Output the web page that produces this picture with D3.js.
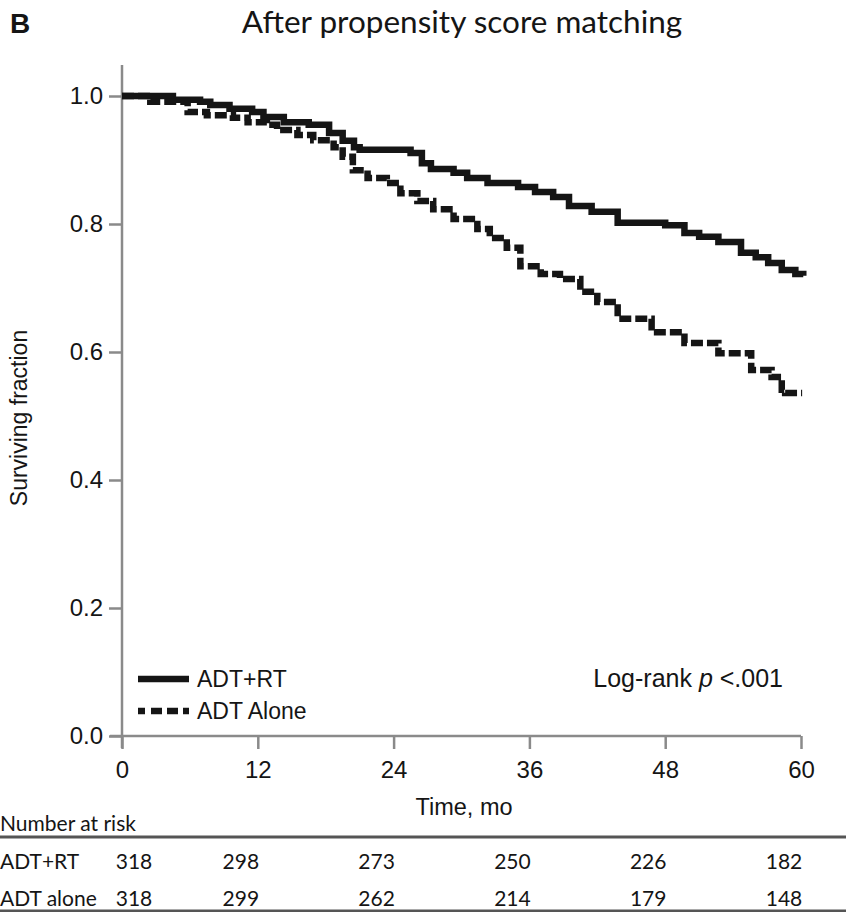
<!DOCTYPE html>
<html>
<head>
<meta charset="utf-8">
<script src="https://cdn.jsdelivr.net/npm/d3@7"></script>
<style>
  body { margin: 0; background: #fff; }
  svg { display: block; }
</style>
</head>
<body>
<svg class="kmSVG" width="846" height="912"></svg>
<script>
// survival estimates: [month, surviving fraction]
const adtRt = [
  [0, 1.0], [4.5, 0.994], [6.9, 0.991], [7.8, 0.986], [9.5, 0.980], [11.5, 0.975],
  [12.5, 0.967], [14.3, 0.959], [16.5, 0.955], [18.3, 0.942], [19.5, 0.930],
  [20.5, 0.920], [21.0, 0.916], [25.5, 0.911], [26.5, 0.895], [27.3, 0.886],
  [29.3, 0.880], [30.5, 0.872], [32.3, 0.864], [35.0, 0.858], [36.5, 0.850],
  [38.1, 0.842], [39.5, 0.828], [41.5, 0.819], [43.8, 0.802], [48.0, 0.798],
  [49.7, 0.786], [51.0, 0.780], [52.7, 0.772], [54.7, 0.755], [56.0, 0.748],
  [57.1, 0.739], [58.3, 0.728], [59.5, 0.722], [60.2, 0.719]
];

const adtAlone = [
  [0, 1.0], [2.5, 0.991], [5.8, 0.975], [7.5, 0.970], [9.8, 0.966], [11.1, 0.959],
  [12.8, 0.955], [13.7, 0.947], [15.5, 0.939], [16.9, 0.931], [18.7, 0.920],
  [19.5, 0.905], [20.4, 0.884], [21.7, 0.872], [23.4, 0.864], [24.6, 0.848],
  [26.1, 0.836], [27.5, 0.823], [29.3, 0.808], [31.4, 0.792], [32.5, 0.778],
  [34.0, 0.763], [35.2, 0.734], [37.0, 0.722], [38.7, 0.714], [40.5, 0.694],
  [42.0, 0.678], [43.8, 0.652], [46.8, 0.631], [49.7, 0.614], [52.7, 0.598],
  [55.6, 0.572], [57.4, 0.561], [58.3, 0.541], [58.6, 0.536], [60.1, 0.536]
];

const xTicks = [0, 12, 24, 36, 48, 60];
const yTicks = [0.0, 0.2, 0.4, 0.6, 0.8, 1.0];

const riskLabels = ['ADT+RT', 'ADT alone'];
const riskRt = [318, 298, 273, 250, 226, 182];
const riskAlone = [318, 299, 262, 214, 179, 148];

const svg = d3.select('svg.kmSVG');
const axisGrey = '#8a8a8a';
const ink = '#151515';
const arial = "'Liberation Sans', Arial, sans-serif";
const calibri = "Lato, 'Open Sans', sans-serif";

const x = d3.scaleLinear().domain([0, 60]).range([122, 801]);
const y = d3.scaleLinear().domain([0, 1]).range([736, 96]);

// panel letter + title
svg.append('text')
  .text('B')
  .attr('x', 10).attr('y', 33)
  .style('font-family', arial)
  .style('font-weight', 700)
  .style('font-size', '28px')
  .style('fill', ink);

svg.append('text')
  .text('After propensity score matching')
  .attr('x', 462).attr('y', 33)
  .style('text-anchor', 'middle')
  .style('font-family', calibri)
  .style('font-size', '31.5px')
  .style('fill', ink);

// axes
const yAxis = d3.axisLeft(y)
  .tickValues(yTicks)
  .tickFormat(d3.format('.1f'))
  .tickSize(13)
  .tickPadding(6);

const xAxis = d3.axisBottom(x)
  .tickValues(xTicks)
  .tickSize(13)
  .tickPadding(12);

const gy = svg.append('g')
  .attr('transform', `translate(${x(0)},0)`)
  .call(yAxis);
gy.select('.domain').remove();

const gx = svg.append('g')
  .attr('transform', `translate(0,${y(0)})`)
  .call(xAxis);
gx.select('.domain').remove();

[gx, gy].forEach(g => {
  g.selectAll('line').attr('stroke', axisGrey).attr('stroke-width', 2.5);
  g.selectAll('text')
    .style('font-family', arial)
    .style('font-size', '24px')
    .style('fill', ink);
});

// axis lines drawn a bit past the corner, like the original
svg.append('line')
  .attr('x1', x(0)).attr('x2', x(0))
  .attr('y1', 65).attr('y2', y(0) + 12)
  .attr('stroke', axisGrey).attr('stroke-width', 2.5);
svg.append('line')
  .attr('x1', x(0) - 12).attr('x2', x(60))
  .attr('y1', y(0)).attr('y2', y(0))
  .attr('stroke', axisGrey).attr('stroke-width', 2.5);

svg.append('text')
  .text('Surviving fraction')
  .attr('transform', `translate(27,${(y(0) + y(1)) / 2 + 2}) rotate(-90)`)
  .style('text-anchor', 'middle')
  .style('font-family', arial)
  .style('font-size', '23px')
  .style('fill', ink);

svg.append('text')
  .text('Time, mo')
  .attr('x', 464).attr('y', 815)
  .style('text-anchor', 'middle')
  .style('font-family', arial)
  .style('font-size', '23.5px')
  .style('fill', ink);

// km curves
const km = d3.line()
  .x(d => x(d[0]))
  .y(d => y(d[1]))
  .curve(d3.curveStepAfter);

svg.append('path')
  .datum(adtRt)
  .attr('d', km)
  .attr('fill', 'none')
  .attr('stroke', ink)
  .attr('stroke-width', 6.5);

svg.append('path')
  .datum(adtAlone)
  .attr('d', km)
  .attr('fill', 'none')
  .attr('stroke', ink)
  .attr('stroke-width', 6.5)
  .attr('stroke-dasharray', '12,4');

// legend
const legend = svg.append('g').attr('transform', 'translate(138,679)');
legend.append('line')
  .attr('x1', 0).attr('x2', 51).attr('y1', 0).attr('y2', 0)
  .attr('stroke', ink).attr('stroke-width', 6.5);
legend.append('line')
  .attr('x1', 0).attr('x2', 51).attr('y1', 32).attr('y2', 32)
  .attr('stroke', ink).attr('stroke-width', 6.5)
  .attr('stroke-dasharray', '7,6,11,5,11,5');
legend.selectAll('text.leg')
  .data(['ADT+RT', 'ADT Alone'])
  .enter()
  .append('text')
  .attr('class', 'leg')
  .text(d => d)
  .attr('x', 59)
  .attr('y', (d, i) => i * 32 + 8)
  .style('font-family', arial)
  .style('font-size', '23px')
  .style('fill', ink);

const lr = svg.append('text')
  .attr('x', 783).attr('y', 687)
  .style('text-anchor', 'end')
  .style('font-family', arial)
  .style('font-size', '25px')
  .style('fill', ink);
lr.append('tspan').text('Log-rank ');
lr.append('tspan').text('p').style('font-style', 'italic');
lr.append('tspan').text(' <.001');

// number at risk table
svg.append('text')
  .text('Number at risk')
  .attr('x', 0).attr('y', 831)
  .style('font-family', calibri)
  .style('font-size', '21px')
  .style('fill', ink);

svg.append('line')
  .attr('x1', 0).attr('x2', 846).attr('y1', 837).attr('y2', 837)
  .attr('stroke', '#555').attr('stroke-width', 3);
svg.append('line')
  .attr('x1', 0).attr('x2', 846).attr('y1', 911).attr('y2', 911)
  .attr('stroke', '#555').attr('stroke-width', 3);

const colX = (t, i) => i === 0 ? x(t) + 12 : x(t) - 17;
const rowY = [869, 906];

[riskRt, riskAlone].forEach((row, r) => {
  svg.append('text')
    .text(riskLabels[r])
    .attr('x', 0).attr('y', rowY[r])
    .style('font-family', calibri)
    .style('font-size', '21px')
    .style('fill', ink);
  svg.selectAll(`text.risk${r}`)
    .data(row)
    .enter()
    .append('text')
    .attr('class', `risk${r}`)
    .text(d => d)
    .attr('x', (d, i) => colX(xTicks[i], i))
    .attr('y', rowY[r])
    .style('text-anchor', 'middle')
    .style('font-family', calibri)
    .style('font-size', '21px')
    .style('fill', ink);
});
</script>
</body>
</html>
